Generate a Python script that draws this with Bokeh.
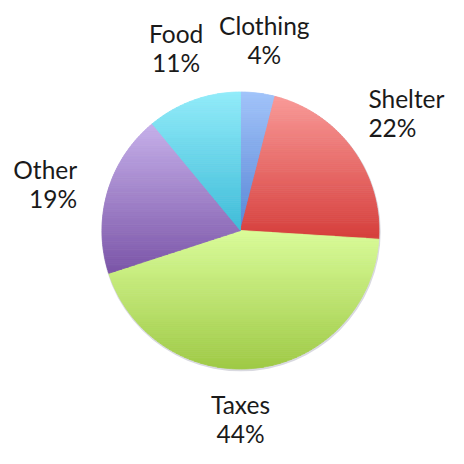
import math
from bokeh.plotting import figure
from bokeh.models import Range1d
from bokeh.core.properties import value
from bokeh.embed import file_html
from bokeh.resources import INLINE

# ---- data ----
categories = ["Clothing", "Shelter", "Taxes", "Other", "Food"]
percents = [4, 22, 44, 19, 11]
top_colors = ["#a2c4fa", "#f99a98", "#dafc9a", "#c6b0ea", "#92ecfa"]
bottom_colors = ["#5886d6", "#d63f3c", "#9fca46", "#7b55a8", "#3fbcd8"]

# ---- layout ----
W, H = 448, 448
CX, CY, R = 240, 230, 138.5
FONT = "Lato"
FS = "24.5px"
LINE_GAP = 14.5
label_nudges = [(0, -2), (-8, -19), (0, 0), (-2, 0), (0, -4)]

p = figure(width=W, height=H, output_backend="svg", toolbar_location=None,
           x_range=Range1d(0, W), y_range=Range1d(H, 0), min_border=0)
p.axis.visible = False
p.grid.visible = False
p.outline_line_color = None
p.background_fill_color = "white"
p.border_fill_color = "white"


def hex2rgb(h):
    h = h.lstrip("#")
    return [int(h[i:i + 2], 16) for i in (0, 2, 4)]


def mix(c0, c1, t):
    a, b = hex2rgb(c0), hex2rgb(c1)
    return "#%02x%02x%02x" % tuple(int(round(a[i] + (b[i] - a[i]) * t)) for i in range(3))


def clip(poly, y, keep_below):
    out = []
    n = len(poly)
    for i in range(n):
        P, Q = poly[i], poly[(i + 1) % n]
        pin = P[1] >= y if keep_below else P[1] <= y
        qin = Q[1] >= y if keep_below else Q[1] <= y
        if pin:
            out.append(P)
        if pin != qin:
            t = (y - P[1]) / (Q[1] - P[1])
            out.append((P[0] + t * (Q[0] - P[0]), y))
    return out


# soft shadow behind the pie
p.circle(x=[CX + 0.5], y=[CY + 1.2], radius=R + 1.2, fill_color="#c9c9d3",
         line_color=None, fill_alpha=0.7)

total = float(sum(percents))
start = 0.0
xs_all, ys_all, cols_all = [], [], []
label_info = []
NB = 70
for cat, pct, c0, c1 in zip(categories, percents, top_colors, bottom_colors):
    a0 = start / total * 2 * math.pi
    a1 = (start + pct) / total * 2 * math.pi
    start += pct
    nseg = max(4, int(pct * 3))
    poly = [(CX, CY)]
    for k in range(nseg + 1):
        a = a0 + (a1 - a0) * k / nseg
        poly.append((CX + R * math.sin(a), CY - R * math.cos(a)))
    ymin = min(q[1] for q in poly)
    ymax = max(q[1] for q in poly)
    for b in range(NB):
        y0 = ymin + (ymax - ymin) * b / NB
        y1 = ymin + (ymax - ymin) * (b + 1) / NB
        band = clip(clip(poly, y0, True), y1, False)
        if len(band) < 3:
            continue
        xs_all.append([q[0] for q in band])
        ys_all.append([q[1] for q in band])
        cols_all.append(mix(c0, c1, (b + 0.5) / NB))
    label_info.append((cat, pct, (a0 + a1) / 2))

p.patches(xs=xs_all, ys=ys_all, fill_color=cols_all, line_color=cols_all, line_width=0.8)

# labels
for (cat, pct, am), (ndx, ndy) in zip(label_info, label_nudges):
    s, c = math.sin(am), math.cos(am)
    if abs(s) < 0.5:
        rr = 190
        x = CX + rr * s if c > 0 else CX
        y = CY - rr * c
        align = "center"
    else:
        rr = 168
        x = CX + rr * s
        y = CY - rr * c
        align = "left" if s > 0 else "right"
    x += ndx
    y += ndy
    for txt, dy in ((cat, -LINE_GAP), ("%d%%" % pct, LINE_GAP)):
        p.text(x=[x], y=[y + dy], text=[txt], text_align=align, text_baseline="middle",
               text_font=value(FONT), text_font_size=FS, text_color="#1a1a1a")

open("out.html", "w").write(file_html(p, INLINE))
